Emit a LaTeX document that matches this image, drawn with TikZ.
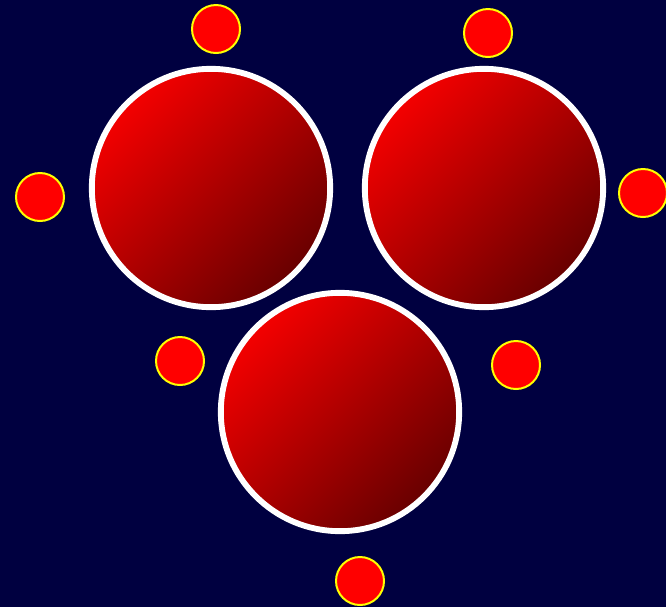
\documentclass[tikz,border=0pt]{standalone}
\usetikzlibrary{positioning}
\definecolor{navybg}{HTML}{000040}
\definecolor{brightred}{HTML}{F40000}
\definecolor{darkred}{HTML}{680000}
\definecolor{dotred}{HTML}{FF0000}
\definecolor{dotrim}{HTML}{FFFF00}

\begin{document}
\begin{tikzpicture}[
  x=0.03cm, y=-0.03cm,
  bigdisc/.style={circle, draw=white, line width=5pt, minimum size=7.15cm,
    inner sep=0pt, top color=brightred, bottom color=darkred, shading angle=45},
  smalldot/.style={circle, draw=dotrim, line width=1.7pt, fill=dotred,
    minimum size=1.44cm, inner sep=0pt},
]

% Background
\fill[navybg] (0,0) rectangle (666,607);
\useasboundingbox (0,0) rectangle (666,607);

% ============ Large discs ============
\node[bigdisc] (discL) at (211,188) {};
\node[bigdisc] (discR) at (484,188) {};
\node[bigdisc] (discB) at (340,412) {};

% ============ Small dots ============
\foreach \name/\px/\py in {dotA/216/29, dotB/488/33, dotC/40/197, dotD/643/193,
                          dotE/180/361, dotF/516/365, dotG/360/581} {
  \node[smalldot] (\name) at (\px,\py) {};
}

\end{tikzpicture}
\end{document}
